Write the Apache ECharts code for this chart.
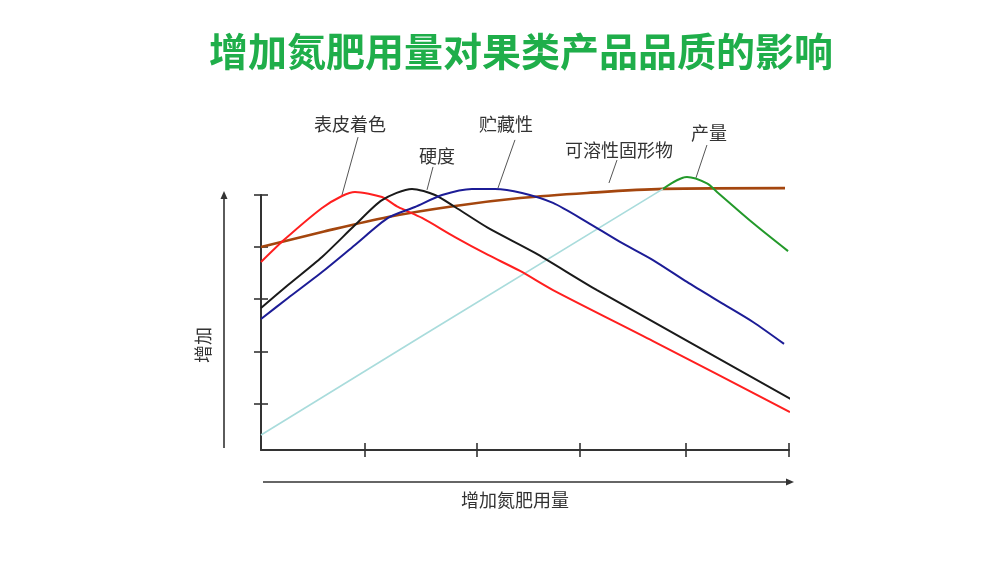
<!DOCTYPE html>
<html>
<head>
<meta charset="utf-8">
<script src="https://cdn.jsdelivr.net/npm/echarts@6/dist/echarts.min.js"></script>
<style>
  html, body { margin: 0; padding: 0; background: #fff; }
  #main { width: 1000px; height: 570px; }
</style>
</head>
<body>
<div id="main"></div>
<script>
// tick positions along the axes (arbitrary units)
const xTicks = [0.98, 2.04, 3.02, 4.02, 5];
const yTicks = [18, 38.4, 59.2, 79.6, 100];

// curves: [nitrogen amount, response]
const skinColor = [[0, 73.7], [0.227, 82.7], [0.578, 94.9], [0.767, 99.6], [0.89, 101.2], [1.146, 99.2],
  [1.297, 95.3], [1.525, 91.0], [1.837, 83.5], [2.15, 76.5], [2.453, 70.2], [2.765, 62.7], [3.712, 42.7], [5.009, 14.9]];
const hardness = [[0, 55.7], [0.256, 64.7], [0.578, 75.7], [0.89, 88.2], [1.146, 98.0], [1.43, 102.4],
  [1.648, 100.0], [1.837, 95.3], [2.15, 87.1], [2.595, 77.3], [3.182, 62.7], [5.085, 18.4]];
const storage = [[0, 51.4], [0.256, 59.6], [0.578, 69.8], [0.89, 80.4], [1.203, 91.0], [1.458, 95.3],
  [1.714, 100.0], [1.998, 102.4], [2.216, 102.4], [2.472, 100.8], [2.765, 96.9], [3.087, 89.4],
  [3.4, 81.6], [3.712, 74.5], [4.034, 65.9], [4.347, 58.0], [4.659, 50.2], [4.953, 41.6]];
const solids = [[0, 79.6], [0.578, 85.5], [1.203, 91.4], [1.837, 95.7], [2.453, 98.8], [3.087, 100.8],
  [3.807, 102.4], [4.962, 102.7]];
const yieldRise = [[0, 5.9], [1.525, 44.7], [3.807, 102.4]];
const yieldTop = [[3.807, 102.4], [4.034, 107.1], [4.223, 104.6], [4.318, 101.2], [4.659, 89.0], [4.991, 78.0]];

// curve labels and their leader lines
const labelNames = ['表皮着色', '硬度', '贮藏性', '可溶性固形物', '产量'];
const labelAt = [[0.843, 127.8], [1.667, 115.3], [2.32, 127.8], [3.39, 117.6], [4.242, 124.3]];
const leaderFrom = [[0.919, 122.7], [1.629, 111.0], [2.405, 121.6], [3.371, 113.7], [4.223, 119.6]];
const leaderTo = [[0.767, 100.0], [1.572, 102.0], [2.244, 102.7], [3.295, 104.7], [4.119, 106.7]];

const FONT = '"Noto Sans CJK SC", "Noto Sans", sans-serif';
const axisColor = '#333';

const chart = echarts.init(document.getElementById('main'));

function curve(name, data, color, width, smooth) {
  return {
    name: name,
    type: 'line',
    data: data,
    smooth: smooth,
    showSymbol: false,
    clip: false,
    lineStyle: { color: color, width: width },
    silent: true
  };
}

function tickAxis(type, ticks, inside, showLine) {
  return {
    type: 'value',
    min: 0,
    max: type === 'x' ? 5 : 100,
    position: type === 'x' ? 'bottom' : 'left',
    axisLine: { show: showLine, onZero: false, lineStyle: { color: axisColor, width: 2 } },
    axisTick: { show: true, inside: inside, length: 7, customValues: ticks, lineStyle: { color: axisColor, width: 1.6 } },
    axisLabel: { show: false },
    splitLine: { show: false }
  };
}

const option = {
  animation: false,
  backgroundColor: '#fff',
  title: {
    text: '增加氮肥用量对果类产品品质的影响',
    left: 204,
    top: 27,
    textStyle: { color: '#1fae4a', fontSize: 39, fontWeight: 'bold', fontFamily: FONT }
  },
  grid: { left: 261, right: 211, top: 195, bottom: 120 },
  xAxis: [
    tickAxis('x', xTicks, false, true),
    tickAxis('x', xTicks, true, false)
  ],
  yAxis: [
    tickAxis('y', yTicks, false, true),
    tickAxis('y', yTicks, true, false)
  ],
  series: [
    curve('可溶性固形物', solids, '#a4460e', 2.6, 0.3),
    curve('产量', yieldRise, '#a9dcdc', 1.6, false),
    curve('产量', yieldTop, '#23992a', 2, 0.3),
    curve('表皮着色', skinColor, '#ff1f1f', 2, 0.25),
    curve('硬度', hardness, '#1a1a1a', 2, 0.25),
    curve('贮藏性', storage, '#1c1c96', 2, 0.25)
  ]
};

chart.setOption(option);

// annotations placed through the chart's own scales
const graphics = [];
labelNames.forEach(function (name, i) {
  const p = chart.convertToPixel({ gridIndex: 0 }, labelAt[i]);
  const a = chart.convertToPixel({ gridIndex: 0 }, leaderFrom[i]);
  const b = chart.convertToPixel({ gridIndex: 0 }, leaderTo[i]);
  graphics.push({
    type: 'line', silent: true, z: 1,
    shape: { x1: a[0], y1: a[1], x2: b[0], y2: b[1] },
    style: { stroke: '#555', lineWidth: 1 }
  });
  graphics.push({
    type: 'text', silent: true,
    x: p[0], y: p[1],
    style: { text: name, fill: '#333', font: '18px ' + FONT, align: 'center', verticalAlign: 'middle' }
  });
});

// direction arrows beside the axes
const origin = chart.convertToPixel({ gridIndex: 0 }, [0, 0]);
const topLeft = chart.convertToPixel({ gridIndex: 0 }, [0, 100]);
const rightEnd = chart.convertToPixel({ gridIndex: 0 }, [5, 0]);
const ax = origin[0] - 37;
const ay = origin[1] + 32;
graphics.push(
  { type: 'line', silent: true, shape: { x1: ax, y1: origin[1] - 2, x2: ax, y2: topLeft[1] + 2 }, style: { stroke: axisColor, lineWidth: 1.6 } },
  { type: 'polygon', silent: true, shape: { points: [[ax - 3.5, topLeft[1] + 4], [ax + 3.5, topLeft[1] + 4], [ax, topLeft[1] - 4]] }, style: { fill: axisColor } },
  { type: 'line', silent: true, shape: { x1: origin[0] + 2, y1: ay, x2: rightEnd[0] - 1, y2: ay }, style: { stroke: axisColor, lineWidth: 1.6 } },
  { type: 'polygon', silent: true, shape: { points: [[rightEnd[0] - 3, ay - 3.5], [rightEnd[0] - 3, ay + 3.5], [rightEnd[0] + 5, ay]] }, style: { fill: axisColor } },
  {
    type: 'text', silent: true, x: 515, y: ay + 18,
    style: { text: '增加氮肥用量', fill: '#333', font: '18px ' + FONT, align: 'center', verticalAlign: 'middle' }
  },
  {
    type: 'text', silent: true, x: 203, y: 345, rotation: Math.PI / 2,
    style: { text: '增加', fill: '#333', font: '18px ' + FONT, align: 'center', verticalAlign: 'middle' }
  }
);

chart.setOption({ graphic: graphics });
</script>
</body>
</html>
